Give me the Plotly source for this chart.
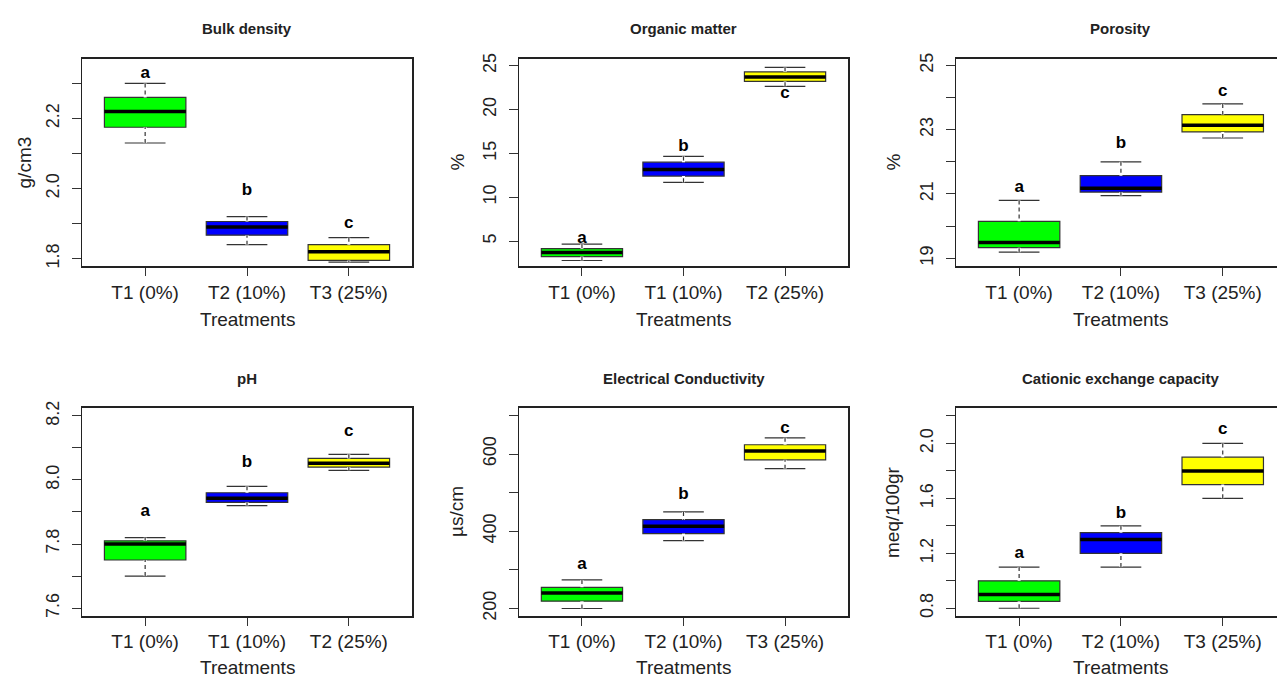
import plotly.graph_objects as go

W, H = 1277, 682

# ---------------- data ----------------
titles = ["Bulk density", "Organic matter", "Porosity",
          "pH", "Electrical Conductivity", "Cationic exchange capacity"]
units = ["g/cm3", "%", "%", "", "\u00b5s/cm", "meq/100gr"]
labels_a = ["T1 (0%)", "T2 (10%)", "T3 (25%)"]
labels_b = ["T1 (0%)", "T1 (10%)", "T2 (25%)"]
panel_labels = [labels_a, labels_b, labels_a, labels_b, labels_a, labels_a]
letters = ["a", "b", "c"]
colors = ["#00FF00", "#0000FF", "#FFFF00"]

bulk_low = [2.13, 1.84, 1.79]
bulk_q1 = [2.175, 1.867, 1.795]
bulk_med = [2.22, 1.89, 1.82]
bulk_q3 = [2.26, 1.906, 1.84]
bulk_high = [2.30, 1.92, 1.86]
bulk_letter_y = [2.328, 1.995, 1.90]

om_low = [2.79, 11.7, 22.65]
om_q1 = [3.24, 12.42, 23.21]
om_med = [3.69, 13.17, 23.73]
om_q3 = [4.14, 14.0, 24.3]
om_high = [4.66, 14.66, 24.81]
om_letter_y = [5.29, 15.78, 21.75]

por_low = [19.19, 20.95, 22.74]
por_q1 = [19.33, 21.06, 22.93]
por_med = [19.49, 21.18, 23.14]
por_q3 = [20.15, 21.57, 23.47]
por_high = [20.8, 22.0, 23.8]
por_letter_y = [21.2, 22.57, 24.19]

ph_low = [7.70, 7.92, 8.03]
ph_q1 = [7.75, 7.93, 8.04]
ph_med = [7.80, 7.943, 8.052]
ph_q3 = [7.81, 7.96, 8.067]
ph_high = [7.82, 7.98, 8.08]
ph_letter_y = [7.90, 8.055, 8.15]

ec_low = [200, 376, 562]
ec_q1 = [219, 394, 585]
ec_med = [240, 413, 608]
ec_q3 = [255, 430, 624]
ec_high = [274, 450, 642]
ec_letter_y = [314, 495, 666]

cec_low = [0.80, 1.10, 1.60]
cec_q1 = [0.85, 1.20, 1.70]
cec_med = [0.90, 1.30, 1.80]
cec_q3 = [1.00, 1.35, 1.90]
cec_high = [1.10, 1.40, 2.00]
cec_letter_y = [1.195, 1.49, 2.10]

stats = [
    (bulk_low, bulk_q1, bulk_med, bulk_q3, bulk_high, bulk_letter_y),
    (om_low, om_q1, om_med, om_q3, om_high, om_letter_y),
    (por_low, por_q1, por_med, por_q3, por_high, por_letter_y),
    (ph_low, ph_q1, ph_med, ph_q3, ph_high, ph_letter_y),
    (ec_low, ec_q1, ec_med, ec_q3, ec_high, ec_letter_y),
    (cec_low, cec_q1, cec_med, cec_q3, cec_high, cec_letter_y),
]

y_ranges = [[1.778, 2.371], [2.12, 25.82], [18.75, 25.21],
            [7.575, 8.225], [180.4, 719.6], [0.743, 2.259]]
y_tickvals = [[1.8, 1.9, 2.0, 2.1, 2.2, 2.3],
              [5, 10, 15, 20, 25],
              [19, 20, 21, 22, 23, 24, 25],
              [7.6, 7.7, 7.8, 7.9, 8.0, 8.1, 8.2],
              [200, 300, 400, 500, 600, 700],
              [0.8, 1.0, 1.2, 1.4, 1.6, 1.8, 2.0, 2.2]]
y_ticktext = [["1.8", "", "2.0", "", "2.2", ""],
              ["5", "10", "15", "20", "25"],
              ["19", "", "21", "", "23", "", "25"],
              ["7.6", "", "7.8", "", "8.0", "", "8.2"],
              ["200", "", "400", "", "600", ""],
              ["0.8", "", "1.2", "", "1.6", "", "2.0", ""]]

# ---------------- layout geometry (pixels) ----------------
col_px = [(82, 412), (519, 848), (956, 1277)]
row_px = [(52.5, 264), (408, 620)]
x_ranges = [[0.38, 3.62], [0.38, 3.62], [0.38, 3.533]]
title_y_px = [22, 378]
xtitle_y_px = [318, 672]
ytitle_x_px = [24, 457, 893]

FONT = "Liberation Sans, Arial, Helvetica, sans-serif"

fig = go.Figure()
layout = dict(
    width=W, height=H,
    margin=dict(l=0, r=0, t=0, b=0),
    paper_bgcolor="white", plot_bgcolor="white",
    showlegend=False,
    font=dict(family=FONT, color="#222"),
)
annotations = []

for p in range(6):
    r, c = divmod(p, 3)
    ax = "" if p == 0 else str(p + 1)
    xa, ya = "x" + ax, "y" + ax
    low, q1, med, q3, high, lety = stats[p]
    for i in range(3):
        pos = i + 1
        fig.add_trace(go.Box(
            x=[pos], q1=[q1[i]], median=[med[i]], q3=[q3[i]],
            lowerfence=[low[i]], upperfence=[high[i]],
            width=0.8, whiskerwidth=0.5, boxpoints=False,
            fillcolor=colors[i], line=dict(color="#333", width=1.2),
            xaxis=xa, yaxis=ya, hoverinfo="skip"))
        # dashed whisker look (R style)
        for a, b in ((q3[i], high[i]), (q1[i], low[i])):
            fig.add_trace(go.Scatter(
                x=[pos, pos], y=[a, b], mode="lines",
                line=dict(color="white", width=3), xaxis=xa, yaxis=ya,
                hoverinfo="skip"))
            fig.add_trace(go.Scatter(
                x=[pos, pos], y=[b, a], mode="lines",
                line=dict(color="#333", width=1.2, dash="4px,3px"),
                xaxis=xa, yaxis=ya, hoverinfo="skip"))
        # thick median
        fig.add_trace(go.Scatter(
            x=[pos - 0.4, pos + 0.4], y=[med[i], med[i]], mode="lines",
            line=dict(color="black", width=3.5), xaxis=xa, yaxis=ya,
            hoverinfo="skip"))
    # significance letters
    fig.add_trace(go.Scatter(
        x=[1, 2, 3], y=lety, mode="text", text=letters,
        textfont=dict(family=FONT, size=17, color="black", weight="bold"),
        xaxis=xa, yaxis=ya, hoverinfo="skip"))

    x0, x1 = col_px[c]
    y0, y1 = row_px[r]
    layout["xaxis" + ax] = dict(
        domain=[x0 / W, x1 / W], range=x_ranges[c], anchor=ya,
        tickvals=[1, 2, 3], ticktext=panel_labels[p],
        ticks="outside", ticklen=8, tickcolor="#333",
        showline=True, mirror=True, linecolor="#222", linewidth=1.5,
        showgrid=False, zeroline=False,
        tickfont=dict(family=FONT, size=19, color="#222"),
        fixedrange=True)
    layout["yaxis" + ax] = dict(
        domain=[1 - y1 / H, 1 - y0 / H], range=y_ranges[p], anchor=xa,
        tickvals=y_tickvals[p], ticktext=y_ticktext[p],
        ticks="outside", ticklen=9, tickcolor="#333",
        tickangle=-90, ticklabelstandoff=5,
        showline=True, mirror=(c != 2), linecolor="#222", linewidth=1.5,
        showgrid=False, zeroline=False,
        tickfont=dict(family=FONT, size=18, color="#222"),
        fixedrange=True)

    # panel title
    annotations.append(dict(
        text="<b>" + titles[p] + "</b>", x=2, xref=xa,
        y=1 - title_y_px[r] / H, yref="paper", showarrow=False,
        xanchor="center", yanchor="middle",
        font=dict(family=FONT, size=15, color="#222")))
    # x-axis title
    annotations.append(dict(
        text="Treatments", x=2, xref=xa,
        y=1 - xtitle_y_px[r] / H, yref="paper", showarrow=False,
        xanchor="center", yanchor="middle",
        font=dict(family=FONT, size=19, color="#222")))
    # y-axis title
    if units[p]:
        annotations.append(dict(
            text=units[p], x=ytitle_x_px[c] / W, xref="paper",
            y=1 - (y0 + y1) / 2 / H, yref="paper", showarrow=False,
            textangle=-90, xanchor="center", yanchor="middle",
            font=dict(family=FONT, size=19, color="#222")))

layout["annotations"] = annotations
fig.update_layout(**layout)
fig.write_html(
    "out.html",
    config={"displayModeBar": False, "staticPlot": True},
    post_script=(
        "document.body.style.margin='0';"
        "document.body.style.overflow='hidden';"
        "var d=document.getElementById('{plot_id}');"
        "d.style.position='absolute';d.style.top='0px';d.style.left='0px';"
    ))
